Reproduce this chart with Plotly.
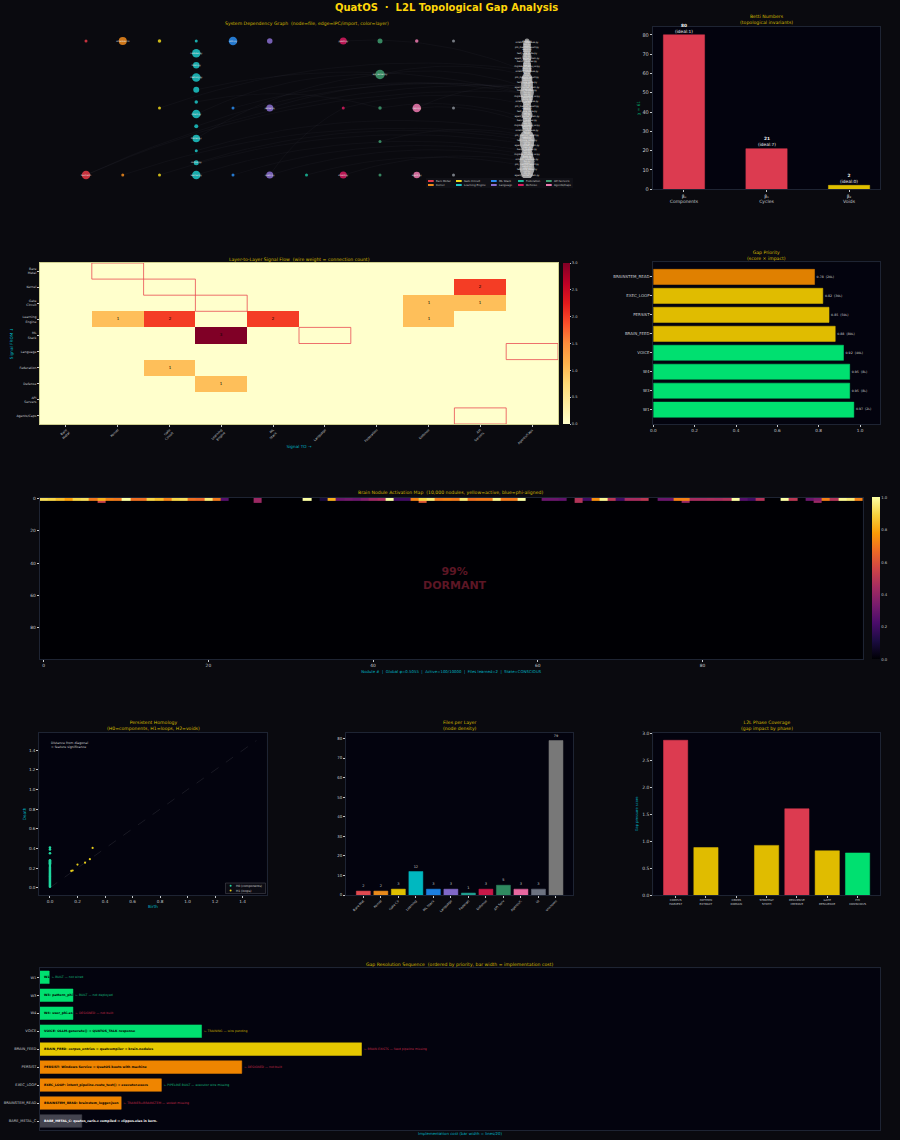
import numpy as np
import plotly.graph_objects as go

W, H = 900, 1140
FIG_BG = "#0a0a0f"
AX_BG = "#03030e"
SPINE = "#1e2433"
TICK = "#c4c8cc"
GOLD = "#d2b800"
CYAN = "#00b4c4"
FONT = "DejaVu Sans"

# ---- palette
RED, ORANGE, YELLOW = "#e63946", "#f08a1c", "#f0d81a"
TEAL, BLUE, PURPLE = "#1cc8c8", "#2a8cf0", "#8a6fd0"
SEA, CRIMSON, GREEN, PINK = "#1abc9c", "#d81b60", "#3f9d70", "#f07ab0"
SLATE, GREY = "#6c7280", "#a8a8a8"
MINT, AMBER, DARKOR = "#00e070", "#e0bc00", "#e08000"

# ---- dependency graph
layers = ["Bare Metal", "Kernel", "Gate Circuit", "Learning Engine", "ML Stack", "Language",
          "Federation", "Defense", "API Servers", "Agents/Caps", "UI", "", "unknown"]
layer_colors = [RED, ORANGE, YELLOW, TEAL, BLUE, PURPLE, SEA, CRIMSON, GREEN, PINK, "#8a8f98", GREY, GREY]
# node diameters per layer, listed from the bottom of the column upward
node_sizes = [
    [8.5, 3], [3, 8], [3, 3, 3.5],
    [8.5, 5, 3, 7.5, 4, 8.5, 3.5, 6, 8.5, 6.5, 8.5, 3],
    [3, 3, 8.5], [7, 7, 5.5], [3], [7, 3, 7],
    [3, 3, 3.5, 9.5, 5], [6.5, 8.5, 3.5], [3, 3, 3], [],
    [9, 12, 13, 14, 15, 14, 12, 13, 15, 14, 12, 11, 12, 9, 7, 11, 9, 12, 14, 14, 15, 15, 14, 11, 8, 7, 9, 7, 9, 11,
     8, 7, 8, 7, 9, 11, 9, 8, 7, 7, 8, 7, 8, 9, 11, 12, 11, 12, 14, 12, 11, 12, 11, 12, 11, 9, 11, 9, 7, 5,
     7, 8, 9, 8, 8, 7, 5, 7, 8, 9, 7, 5, 7, 8, 7, 7, 8, 5, 5],
]
unknown_names = ["agent_runner_main.py", "cfg.py", "init.py", "test_core_suite.py", "utils.py", "setup.py",
                 "phi_metrics_report.py", "io.py", "log.py", "scratch_notebook.py", "dump.py", "tools.py",
                 "migrate_schema_v2.py", "ops.py", "run.py", "bench_nodules.py", "map.py"]
node_labels = [
    ["boot.asm", ""], ["", "scheduler.rs"], ["", "", ""],
    ["learner.py", "corpus.py", "", "trainer.py", "", "intent.py", "", "", "memory.py", "brain.py", "nodules.py", ""],
    ["", "", "ollm.py"], ["quatc.py", "parser.py", ""], [""], ["shield.py", "", "guard.py"],
    ["", "", "", "api_server.py", ""], ["agent.py", "caps.py", ""], ["", "", ""], [],
    [unknown_names[i % len(unknown_names)] for i in range(79)],
]
# edges: (layer, rank) -> (layer, rank)
edges = [
    ((0, 0), (12, 52)), ((2, 1), (12, 61)), ((0, 0), (12, 48)), ((1, 0), (12, 22)), ((2, 0), (12, 18)),
    ((3, 1), (12, 20)), ((3, 0), (12, 14)), ((3, 4), (12, 50)), ((3, 3), (8, 3)), ((3, 5), (8, 3)),
    ((4, 1), (12, 47)), ((5, 1), (12, 49)), ((4, 0), (12, 12)), ((5, 0), (12, 10)), ((5, 0), (7, 1)),
    ((7, 1), (12, 41)), ((8, 3), (12, 58)), ((8, 3), (12, 51)), ((8, 1), (12, 23)), ((8, 2), (12, 33)),
    ((7, 0), (12, 8)), ((9, 1), (12, 30)), ((9, 1), (12, 52)), ((6, 0), (12, 5)), ((3, 7), (12, 47)),
    ((3, 2), (12, 25)), ((3, 6), (8, 2)), ((7, 2), (12, 60)),
]

# ---- Betti
betti_ticks = ["β₀<br>Components", "β₁<br>Cycles", "β₂<br>Voids"]
betti_vals = [80, 21, 2]
betti_text = ["<b>80</b><br>(ideal:1)", "<b>21</b><br>(ideal:7)", "<b>2</b><br>(ideal:0)"]
betti_cols = ["#dc3b50", "#dc3b50", "#e0c000"]

# ---- layer flow
flow_ticks = ["Bare<br>Metal", "Kernel", "Gate<br>Circuit", "Learning<br>Engine", "ML<br>Stack", "Language",
              "Federation", "Defense", "API<br>Servers", "Agents/Caps"]
flow = [
    [0, 0, 0, 0, 0, 0, 0, 0, 0, 0],
    [0, 0, 0, 0, 0, 0, 0, 0, 2, 0],
    [0, 0, 0, 0, 0, 0, 0, 1, 1, 0],
    [0, 1, 2, 0, 2, 0, 0, 1, 0, 0],
    [0, 0, 0, 3, 0, 0, 0, 0, 0, 0],
    [0, 0, 0, 0, 0, 0, 0, 0, 0, 0],
    [0, 0, 1, 0, 0, 0, 0, 0, 0, 0],
    [0, 0, 0, 1, 0, 0, 0, 0, 0, 0],
    [0, 0, 0, 0, 0, 0, 0, 0, 0, 0],
    [0, 0, 0, 0, 0, 0, 0, 0, 0, 0],
]
missing_links = [(0, 1), (1, 2), (2, 3), (4, 5), (5, 9), (9, 8)]  # (row, column)

# ---- gap priority
prio_names = ["W1", "W3", "W4", "VOICE", "BRAIN_FEED", "PERSIST", "EXEC_LOOP", "BRAINSTEM_READ"]
prio_scores = [0.97, 0.95, 0.95, 0.92, 0.88, 0.85, 0.82, 0.78]
prio_lines = [2, 8, 8, 40, 80, 50, 30, 20]
prio_cols = [MINT, MINT, MINT, MINT, AMBER, AMBER, AMBER, DARKOR]

# ---- brain nodules: first rows of the 100 x 100 grid, rest dormant
nod_row0 = [.92, .9, .85, .78, .9, .92, .7, .82, .72, .7, 1.0, .68, .68, .9, .85, .72, .9, .92, .68, .66,
            .95, .7, .25, 0, 0, 0, .42, 0, 0, 0, 0, 0, 1.0, 0, .1, .82, .3, .32, .3, .35,
            .42, .45, 1.0, .2, .2, .72, .9, .95, .7, .72, .7, .95, .68, .7, .7, .98, .7, .7, 1.0, 0,
            0, .3, .3, .28, 0, .48, .2, .75, .98, .5, .2, .45, .45, .5, 0, .3, .3, .72, .72, .45,
            .45, .46, .45, .47, 1.0, .25, .2, .48, 0, 0, 1.0, .5, 0, .3, .35, .72, .48, .98, .95, .72]
nod_row1_cols = [7, 26, 46, 65, 78, 94]
nod_row1_vals = [.55, .42, .62, .48, .42, .42]
nod_row_pos = [0.4, 2.0] + list(range(3, 100))

# ---- persistence
h0_death = [.41, .39, .35, .28, .27, .26, .25, .24, .23, .21, .20, .19, .18, .17, .16, .15, .14, .13,
            .12, .11, .10, .09, .08, .07, .06, .05, .04, .03, .02, .01]
h1_birth = [.155, .165, .2, .255, .29, .31]
h1_death = [.17, .175, .235, .255, .29, .405]
diag = [0, 1.5]

# ---- files per layer
file_names = ["Bare Met", "Kernel", "Gate Cir", "Learning", "ML Stack", "Language", "Federati", "Defense",
              "API Serv", "Agents/C", "UI", "unknown"]
file_counts = [2, 2, 3, 12, 3, 3, 1, 3, 5, 3, 3, 79]
file_cols = ["#e04a50", "#e88a1c", "#e0c000", "#00b8c0", "#1c80e0", "#8068c8", "#20a090", "#c81848",
             "#2f8a60", "#e868a0", "#6c7280", "#787878"]

# ---- phase coverage
phase_names = ["CORPUS<br>HARVEST", "PATTERN<br>EXTRACT", "CROSS<br>DOMAIN", "STRATEGY<br>SYNTH",
               "RECURSIVE<br>IMPROVE", "GATE<br>RESILIENCE", "PHI<br>CONSCIOUS"]
phase_vals = [2.87, 0.88, 0, 0.92, 1.60, 0.82, 0.78]
phase_cols = ["#dc3b50", AMBER, AMBER, AMBER, "#dc3b50", AMBER, MINT]

# ---- gap resolution sequence
seq_names = ["W1", "W3", "W4", "VOICE", "BRAIN_FEED", "PERSIST", "EXEC_LOOP", "BRAINSTEM_READ", "BARE_METAL_C"]
seq_cost = [0.115, 0.41, 0.41, 2.01, 4.0, 2.51, 1.51, 1.01, 0.52]
seq_cols = [MINT, MINT, MINT, MINT, "#e6c800", "#ef8500", "#ef8500", "#ef8500", "#44444f"]
seq_inner = ["W1", "W3: pattern_phi", "W4: user_phi.as", "VOICE: OLLM.generate() → QUATOS_TALK response",
             "BRAIN_FEED: corpus_entries → quatcompiler → brain.nodules",
             "PERSIST: Windows Service → QuatOS boots with machine",
             "EXEC_LOOP: intent_pipeline.route_text() → executor.execs",
             "BRAINSTEM_READ: brainstem_logger.json",
             "BARE_METAL_C: quatos_caris.c compiled → clippos.elas in kern."]
seq_inner_cols = ["#000000"] * 8 + ["#ffffff"]
seq_status = ["← BUILT — not wired", "← BUILT — not deployed", "← DESIGNED — not built",
              "← TRAINING — wire pending", "← BRAIN EXISTS — feed pipeline missing", "← DESIGNED — not built",
              "← PIPELINE BUILT — executor wire missing", "← TRAINER+BRAINSTEM — socket missing", ""]
seq_status_cols = ["#14b87a", "#14b87a", "#c02848", "#c0a800", "#c02848", "#c02848", "#14b87a", "#c02848", "#000000"]

fig = go.Figure()


def xd(a, b):
    return [a / W, b / W]


def yd(top, bottom):
    return [1 - bottom / H, 1 - top / H]


def axis(dom, size=4.5, **kw):
    d = dict(domain=dom, showgrid=False, zeroline=False, showline=True, linecolor=SPINE, linewidth=0.8,
             mirror=True, ticks="outside", ticklen=2, tickwidth=0.5, tickcolor=TICK,
             tickfont=dict(size=size, color=TICK, family=FONT))
    d.update(kw)
    return d


def atitle(text, standoff, color=CYAN, size=4.2):
    return dict(text=text, standoff=standoff, font=dict(size=size, color=color, family=FONT))


notes = []
shapes = []


def note(px, py, text, size=4.6, color=GOLD, xanchor="center", yanchor="bottom", align="center", **kw):
    notes.append(dict(xref="paper", yref="paper", x=px / W, y=1 - py / H, text=text, showarrow=False,
                      font=dict(size=size, color=color, family=FONT), xanchor=xanchor, yanchor=yanchor,
                      align=align, borderpad=0, borderwidth=0, **kw))


# ---- 1. graph
shapes.append(dict(type="rect", xref="paper", yref="paper", x0=0, x1=600 / W, y0=1 - 188 / H, y1=1 - 28 / H,
                   fillcolor=FIG_BG, line=dict(width=0), layer="below"))
PX_X, PX_Y = 36.75, 134.0
layer_ys = [np.linspace(0, 1, len(s)) if len(s) else np.array([]) for s in node_sizes]
ex, ey = [], []
for (la, ra), (lb, rb) in edges:
    ax_, ay_ = float(la), float(layer_ys[la][ra])
    bx_, by_ = float(lb), float(layer_ys[lb][rb])
    dx, dy = (bx_ - ax_) * PX_X, (by_ - ay_) * PX_Y
    cx = (ax_ + bx_) / 2 - 0.12 * dy / PX_X
    cy = (ay_ + by_) / 2 + 0.12 * dx / PX_Y
    for t in np.linspace(0, 1, 20):
        ex.append((1 - t) ** 2 * ax_ + 2 * t * (1 - t) * cx + t ** 2 * bx_)
        ey.append((1 - t) ** 2 * ay_ + 2 * t * (1 - t) * cy + t ** 2 * by_)
    ex.append(None)
    ey.append(None)
fig.add_trace(go.Scatter(x=ex, y=ey, mode="lines", line=dict(color="rgba(200,205,225,0.07)", width=0.5),
                         xaxis="x", yaxis="y", showlegend=False, hoverinfo="skip"))
for i, sizes in enumerate(node_sizes):
    if not sizes:
        continue
    fig.add_trace(go.Scatter(
        x=[i] * len(sizes), y=layer_ys[i], mode="markers+text", text=node_labels[i],
        textposition="middle center", textfont=dict(size=2.2, color="#e8e8e8", family=FONT),
        marker=dict(size=sizes, color=layer_colors[i], opacity=0.85, line=dict(width=0)),
        xaxis="x", yaxis="y", showlegend=False, name=layers[i]))
rng_x = [(0 - 86) / PX_X, (600 - 86) / PX_X]
rng_y = [(175 - 188) / PX_Y, (175 - 28) / PX_Y]
layout_axes = dict(
    xaxis=dict(domain=xd(0, 600), range=rng_x, visible=False),
    yaxis=dict(domain=yd(28, 188), range=rng_y, visible=False),
)
note(307, 25.5, "System Dependency Graph  (node=file, edge=IPC/import, color=layer)")
# graph legend
shapes.append(dict(type="rect", xref="paper", yref="paper", x0=426 / W, x1=573 / W, y0=1 - 188 / H, y1=1 - 178 / H,
                   fillcolor="#101016", line=dict(width=0), layer="above"))
leg_cols = [428, 456, 491, 518, 546]
leg_rows = [181, 185]
leg_items = [[("Bare Metal", RED), ("Kernel", ORANGE)], [("Gate Circuit", YELLOW), ("Learning Engine", TEAL)],
             [("ML Stack", BLUE), ("Language", PURPLE)], [("Federation", SEA), ("Defense", CRIMSON)],
             [("API Servers", GREEN), ("Agents/Caps", PINK)]]
for cx_, col in zip(leg_cols, leg_items):
    for ry, (lab, colr) in zip(leg_rows, col):
        shapes.append(dict(type="rect", xref="paper", yref="paper", x0=cx_ / W, x1=(cx_ + 5.7) / W,
                           y0=1 - (ry + 1) / H, y1=1 - (ry - 1) / H, fillcolor=colr, line=dict(width=0), layer="above"))
        note(cx_ + 8, ry, lab, size=2.7, color="#c8c8c8", xanchor="left", yanchor="middle")

# ---- 2. betti
fig.add_trace(go.Bar(x=[0, 1, 2], y=betti_vals, width=0.5, marker=dict(color=betti_cols, line=dict(color=betti_cols, width=0.5)),
                     cliponaxis=False, xaxis="x2", yaxis="y2", showlegend=False))
for i, (v, t) in enumerate(zip(betti_vals, betti_text)):
    notes.append(dict(xref="x2", yref="y2", x=i, y=v, text=t, showarrow=False, yanchor="bottom", xanchor="center",
                      align="center", borderpad=0, yshift=0.3, font=dict(size=4.3, color="#f4f4f4", family=FONT)))
layout_axes["xaxis2"] = axis(xd(652.7, 880), size=4.5, range=[-0.379, 2.375], tickvals=[0, 1, 2], ticktext=betti_ticks, anchor="y2")
layout_axes["yaxis2"] = axis(yd(26.7, 189.2), size=5, range=[0, 84.2], tick0=0, dtick=10, anchor="x2",
                             title=atitle("χ = 61", 1, color="#00a868"))
note(766, 25, "Betti Numbers<br>(topological invariants)")

# ---- 3. flow heatmap
ftext = [[str(v) if v else "" for v in row] for row in flow]
fig.add_trace(go.Heatmap(z=flow, x=list(range(10)), y=list(range(10)), text=ftext, texttemplate="%{text}",
                         textfont=dict(size=4, color="#000000", family=FONT), colorscale="YlOrRd", zmin=0, zmax=3,
                         xgap=0, ygap=0, xaxis="x3", yaxis="y3",
                         colorbar=dict(x=563 / W, xanchor="left", y=1 - 343.5 / H, yanchor="middle", len=161 / H,
                                       lenmode="fraction", thickness=7, thicknessmode="pixels", outlinewidth=0,
                                       ticks="outside", ticklen=1.5, tickwidth=0.4, tickcolor=TICK, dtick=0.5,
                                       tickformat=".1f", tickfont=dict(size=3.6, color=TICK, family=FONT), xpad=0, ypad=0)))
layout_axes["xaxis3"] = axis(xd(40, 558), size=3.2, range=[-0.5, 9.5], tickvals=list(range(10)), ticktext=flow_ticks,
                             tickangle=-45, anchor="y3", linecolor="#cfcf90",
                             title=atitle("Signal TO →", 0))
layout_axes["yaxis3"] = axis(yd(263, 424), size=3.2, range=[9.5, -0.5], tickvals=list(range(10)), ticktext=flow_ticks,
                             anchor="x3", linecolor="#cfcf90", title=atitle("Signal FROM ↓", 2))
for r, c in missing_links:
    shapes.append(dict(type="rect", xref="x3", yref="y3", x0=c - 0.5, x1=c + 0.5, y0=r - 0.5, y1=r + 0.5,
                       line=dict(color="rgba(230,57,70,0.8)", width=0.9), fillcolor="rgba(0,0,0,0)", layer="above"))
note(299, 261.5, "Layer-to-Layer Signal Flow  (wire weight = connection count)")

# ---- 4. priority
fig.add_trace(go.Bar(y=list(range(8)), x=prio_scores, orientation="h", width=0.8,
                     marker=dict(color=prio_cols, line=dict(color=prio_cols, width=0.5)),
                     xaxis="x4", yaxis="y4", showlegend=False))
fig.add_trace(go.Scatter(x=[s + 0.01 for s in prio_scores], y=list(range(8)), mode="text",
                         text=["%.2f  (%dL)" % (s, l) for s, l in zip(prio_scores, prio_lines)],
                         textposition="middle right", textfont=dict(size=3.2, color="#d0d0d0", family=FONT),
                         xaxis="x4", yaxis="y4", showlegend=False, cliponaxis=False))
layout_axes["xaxis4"] = axis(xd(653.3, 880.3), size=4.2, range=[0, 1.098], tick0=0, dtick=0.2, tickformat=".1f", anchor="y4")
layout_axes["yaxis4"] = axis(yd(262.3, 424.3), size=4, range=[-0.77, 7.77], tickvals=list(range(8)), ticktext=prio_names, anchor="x4")
note(766.5, 260.5, "Gap Priority<br>(score × impact)")

# ---- 5. brain map
brain = [list(nod_row0), [0.0] * 100] + [[0.0] * 100 for _ in range(98)]
for c, v in zip(nod_row1_cols, nod_row1_vals):
    brain[1][c] = v
fig.add_trace(go.Heatmap(z=brain, y=nod_row_pos, colorscale="Inferno", zmin=0, zmax=1, xaxis="x5", yaxis="y5",
                         colorbar=dict(x=872.3 / W, xanchor="left", y=1 - 578.5 / H, yanchor="middle", len=161.6 / H,
                                       lenmode="fraction", thickness=7.7, thicknessmode="pixels", outlinewidth=0,
                                       ticks="", dtick=0.2, tickformat=".1f",
                                       tickfont=dict(size=3.8, color=TICK, family=FONT), xpad=0, ypad=0)))
layout_axes["xaxis5"] = axis(xd(39.6, 863), size=4.4, range=[-0.5, 99.5], tick0=0, dtick=20, anchor="y5",
                             title=atitle("Nodule #  |  Global φ=0.5055  |  Active=100/10000  |  Files learned=2  |  State=CONSCIOUS", 2, size=3.9))
layout_axes["yaxis5"] = axis(yd(497.7, 659.3), size=4.4, range=[99.5, -0.5], tick0=0, dtick=20, anchor="x5")
note(451, 495.5, "Brain Nodule Activation Map  (10,000 nodules, yellow=active, blue=phi-aligned)")
note(455, 578.5, "<b>99%<br>DORMANT</b>", size=11, color="#5c1624", yanchor="middle")

# ---- 6. persistence
fig.add_trace(go.Scatter(x=diag, y=diag, mode="lines", line=dict(color="rgba(255,255,255,0.18)", width=0.5, dash="dash"),
                         xaxis="x6", yaxis="y6", showlegend=False))
fig.add_trace(go.Scatter(x=[0] * len(h0_death), y=h0_death, mode="markers", name="H0 (components)",
                         marker=dict(size=2.6, color="#1fd8a0"), xaxis="x6", yaxis="y6", showlegend=False))
fig.add_trace(go.Scatter(x=h1_birth, y=h1_death, mode="markers", name="H1 (loops)",
                         marker=dict(size=2.2, color="#e6cc1a"), xaxis="x6", yaxis="y6", showlegend=False))
layout_axes["xaxis6"] = axis(xd(39.3, 266.7), size=4.2, range=[-0.0775, 1.575], tick0=0, dtick=0.2, tickformat=".1f", anchor="y6",
                             title=atitle("Birth", 2))
layout_axes["yaxis6"] = axis(yd(732.7, 895), size=4.2, range=[-0.075, 1.58], tick0=0, dtick=0.2, tickformat=".1f", anchor="x6",
                             title=atitle("Death", 2))
note(153, 731, "Persistent Homology<br>(H0=components, H1=loops, H2=voids)")
note(51, 740.5, "Distance from diagonal<br>= feature significance", size=3.2, color="#c8c8c8", xanchor="left",
     yanchor="top", align="left")
shapes.append(dict(type="rect", xref="paper", yref="paper", x0=225.5 / W, x1=265.5 / W, y0=1 - 893.5 / H, y1=1 - 883 / H,
                   fillcolor="#0c0c14", line=dict(color="#505058", width=0.5), layer="above"))
for py, colr, lab in [(885.8, "#1fd8a0", "H0 (components)"), (890.6, "#e6cc1a", "H1 (loops)")]:
    shapes.append(dict(type="circle", xref="paper", yref="paper", x0=229.6 / W, x1=231.6 / W,
                       y0=1 - (py + 1) / H, y1=1 - (py - 1) / H, fillcolor=colr, line=dict(width=0), layer="above"))
    note(236, py, lab, size=3, color="#d0d0d0", xanchor="left", yanchor="middle")

# ---- 7. files per layer
fig.add_trace(go.Bar(x=list(range(12)), y=file_counts, width=0.8,
                     marker=dict(color=file_cols, line=dict(color=file_cols, width=0.5)),
                     text=[str(v) for v in file_counts], textposition="outside", cliponaxis=False, textangle=0,
                     textfont=dict(size=3.5, color="#c8c8c8", family=FONT), xaxis="x7", yaxis="y7", showlegend=False))
layout_axes["xaxis7"] = axis(xd(346, 573.3), size=3.2, range=[-0.99, 11.99], tickvals=list(range(12)), ticktext=file_names,
                             tickangle=-45, anchor="y7")
layout_axes["yaxis7"] = axis(yd(732.7, 895), size=3.9, range=[0, 83], tick0=0, dtick=10, anchor="x7")
note(460, 731, "Files per Layer<br>(node density)")

# ---- 8. phase coverage
phase_lw = [0.5 if v > 0 else 0 for v in phase_vals]
fig.add_trace(go.Bar(x=list(range(7)), y=phase_vals, width=0.8,
                     marker=dict(color=phase_cols, line=dict(color=phase_cols, width=phase_lw)),
                     xaxis="x8", yaxis="y8", showlegend=False))
layout_axes["xaxis8"] = axis(xd(653.3, 880), size=2.8, range=[-0.736, 6.74], tickvals=list(range(7)), ticktext=phase_names, anchor="y8")
layout_axes["yaxis8"] = axis(yd(732.7, 895), size=4.5, range=[0, 3.01], tick0=0, dtick=0.5, tickformat=".1f", anchor="x8",
                             title=atitle("Gap pressure score", 4, size=3.6))
note(767, 731, "L2L Phase Coverage<br>(gap impact by phase)")

# ---- 9. sequence
seq_y = list(range(9))
fig.add_trace(go.Bar(y=seq_y, x=seq_cost, orientation="h", width=0.7,
                     marker=dict(color=seq_cols, line=dict(color=seq_cols, width=0.5)),
                     xaxis="x9", yaxis="y9", showlegend=False))
fig.add_trace(go.Scatter(x=[0.05] * 9, y=seq_y, mode="text", text=["<b>%s</b>" % s for s in seq_inner],
                         textposition="middle right", textfont=dict(size=3.2, color=seq_inner_cols, family=FONT),
                         xaxis="x9", yaxis="y9", showlegend=False))
fig.add_trace(go.Scatter(x=[c + 0.03 for c in seq_cost], y=seq_y, mode="text", text=seq_status,
                         textposition="middle right", textfont=dict(size=3.1, color=seq_status_cols, family=FONT),
                         xaxis="x9", yaxis="y9", showlegend=False))
layout_axes["xaxis9"] = axis(xd(40, 880), size=3.8, range=[0, 10.45], showticklabels=False, ticks="", anchor="y9",
                             title=atitle("Implementation cost (bar width = lines/20)", 2, size=3.9))
layout_axes["yaxis9"] = axis(yd(968.3, 1130), size=3.6, range=[8.5, -0.5], tickvals=seq_y, ticktext=seq_names, anchor="x9")
note(460, 966.5, "Gap Resolution Sequence  (ordered by priority, bar width = implementation cost)")

# ---- main title
note(446, 7.7, "<b>QuatOS  ·  L2L Topological Gap Analysis</b>", size=10, color="#ffd60a", yanchor="middle")

fig.update_layout(
    width=W, height=H, margin=dict(l=0, r=0, t=0, b=0, pad=0, autoexpand=False), paper_bgcolor=FIG_BG, plot_bgcolor=AX_BG,
    font=dict(family=FONT), showlegend=False, annotations=notes, shapes=shapes, **layout_axes,
)

fig.write_html("out.html", config=dict(displayModeBar=False),
               post_script="document.body.style.margin='0';document.body.style.background='%s';" % FIG_BG)
